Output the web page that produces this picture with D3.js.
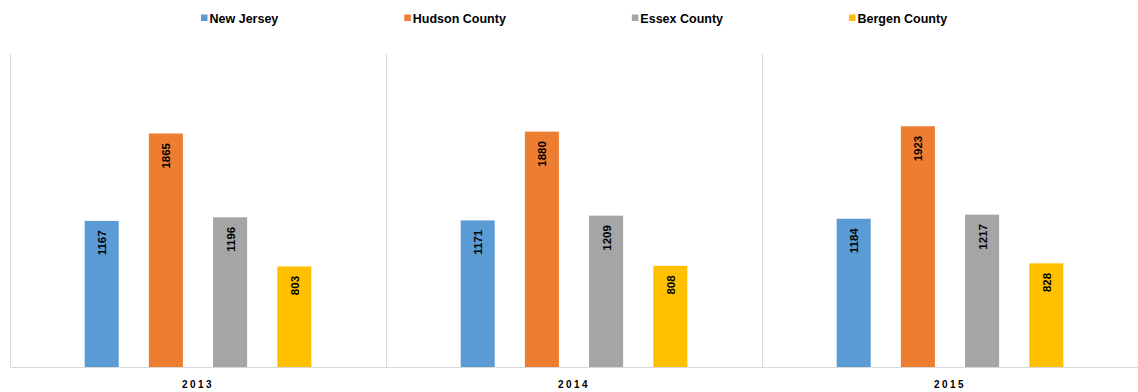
<!DOCTYPE html>
<html><head><meta charset="utf-8">
<script src="https://cdn.jsdelivr.net/npm/d3@7"></script>
<style>
body{margin:0;background:#fff;}
svg{display:block;}
text{font-family:"Liberation Sans",Arial,sans-serif;font-weight:bold;}
</style></head>
<body>
<svg id="chart" width="1138" height="392"></svg>
<script>
const years = ["2013", "2014", "2015"];
const seriesNames = ["New Jersey", "Hudson County", "Essex County", "Bergen County"];
const newJersey = [1167, 1171, 1184];
const hudson = [1865, 1880, 1923];
const essex = [1196, 1209, 1217];
const bergen = [803, 808, 828];
const colors = ["#5B9BD5", "#ED7D31", "#A5A5A5", "#FFC000"];
const seriesValues = [newJersey, hudson, essex, bergen];

const svg = d3.select("#chart");
const plot = {left: 10, right: 1138, top: 54, bottom: 367};

const x0 = d3.scaleBand().domain(years).range([plot.left, plot.right]).padding(0);
const x1 = d3.scaleBand().domain(seriesNames).range([0, x0.bandwidth()]).paddingInner(0.47).paddingOuter(1.163);
const y = d3.scaleLinear().domain([0, 2500]).range([plot.bottom, plot.top]);
const color = d3.scaleOrdinal().domain(seriesNames).range(colors);

// vertical separators
svg.append("g").selectAll("line").data(years).join("line")
  .attr("x1", d => x0(d) + 0.5).attr("x2", d => x0(d) + 0.5)
  .attr("y1", plot.top).attr("y2", plot.bottom)
  .attr("stroke", "#d9d9d9").attr("stroke-width", 1);

// bars
const groups = svg.append("g").selectAll("g").data(years).join("g")
  .attr("transform", d => `translate(${x0(d)},0)`);
const rows = (d, i) => seriesNames.map((s, j) => ({s, v: seriesValues[j][i]}));
groups.selectAll("rect").data(rows)
  .join("rect")
  .attr("x", d => x1(d.s)).attr("width", x1.bandwidth())
  .attr("y", d => y(d.v)).attr("height", d => y(0) - y(d.v))
  .attr("fill", d => color(d.s));
groups.selectAll("text.val").data(rows)
  .join("text").attr("class", "val")
  .attr("transform", d => `translate(${x1(d.s) + x1.bandwidth()/2 + 4.5},${y(d.v) + 9.5}) rotate(-90)`)
  .attr("text-anchor", "end")
  .attr("font-size", 11.5).attr("fill", "#000")
  .text(d => d.v);

// baseline axis
const xAxis = d3.axisBottom(x0).tickSize(0).tickPadding(14);
const ax = svg.append("g").attr("transform", `translate(0,${plot.bottom})`).call(xAxis);
ax.select(".domain").attr("stroke", "#d9d9d9");
ax.selectAll("text").attr("font-size", 10).attr("fill", "#000")
  .attr("letter-spacing", "2.5px")
  .style("font-family", "'Liberation Sans', Arial, sans-serif").style("font-weight", "bold");

// legend
const legend = svg.append("g");
let lx = 201;
seriesNames.forEach((s) => {
  const g = legend.append("g");
  g.append("rect").attr("x", lx).attr("y", 14.5).attr("width", 6.5).attr("height", 6.5).attr("fill", color(s));
  const t = g.append("text").attr("x", lx + 8.5).attr("y", 22.5)
    .attr("font-size", 12.5).attr("fill", "#000").text(s);
  const w = t.node().getComputedTextLength();
  lx = lx + 8.5 + w + 126;
});
</script>
</body></html>
